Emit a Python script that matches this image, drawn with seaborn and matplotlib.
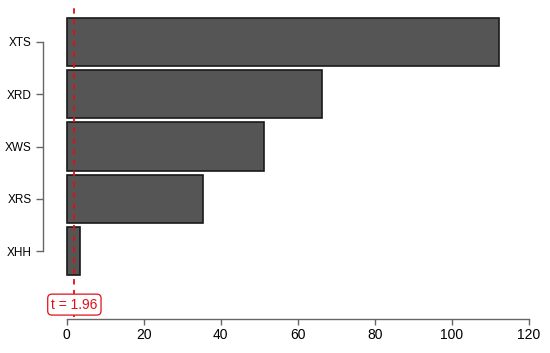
import matplotlib
matplotlib.use("Agg")
import matplotlib.pyplot as plt
import seaborn as sns
import pandas as pd

# data
labels = ["XTS", "XRD", "XWS", "XRS", "XHH"]
values = [112.3, 66.4, 51.2, 35.3, 3.5]
t_crit = 1.96
x_ticks = [0, 20, 40, 60, 80, 100, 120]

sns.set_theme(style="white")
plt.rcParams["font.family"] = ["Liberation Sans", "DejaVu Sans"]

df = pd.DataFrame({"label": labels, "value": values})

fig = plt.figure(figsize=(5.5, 3.53), dpi=100)
ax = fig.add_axes([0.111, 0.103, 0.8645, 0.885])

sns.barplot(data=df, x="value", y="label", orient="h", ax=ax,
            color="#555555", saturation=1, edgecolor="#1a1a1a",
            linewidth=1.2, width=0.92)

ax.axvline(t_crit, color="#e0101a", linestyle=(0, (3, 3)), linewidth=1.3, zorder=5)
ax.text(t_crit, 5.02, "t = 1.96", color="#e0101a", fontsize=10,
        ha="center", va="center", zorder=6,
        bbox=dict(boxstyle="round,pad=0.25,rounding_size=0.3",
                  fc="white", ec="#e0101a", lw=0.9))

ax.set_xlim(-1.5, 122)
ax.set_ylim(5.25, -0.72)
ax.set_xticks(x_ticks)
ax.set_xlabel("")
ax.set_ylabel("")

for side in ["top", "right"]:
    ax.spines[side].set_visible(False)
ax.spines["left"].set_bounds(0, 4)
ax.spines["left"].set_position(("outward", 13))
ax.spines["bottom"].set_bounds(0, 120)
ax.spines["bottom"].set_position(("outward", 1.5))
for side in ["left", "bottom"]:
    ax.spines[side].set_color("#666666")
    ax.spines[side].set_linewidth(1.0)

ax.tick_params(axis="y", left=True, length=5, width=1.0, color="#666666",
               labelsize=8.5, pad=3, labelcolor="black")
ax.tick_params(axis="x", bottom=True, length=4, width=1.0, color="#666666",
               labelsize=10, pad=3, labelcolor="black")

plt.savefig("out.png", dpi=100)
plt.close()
